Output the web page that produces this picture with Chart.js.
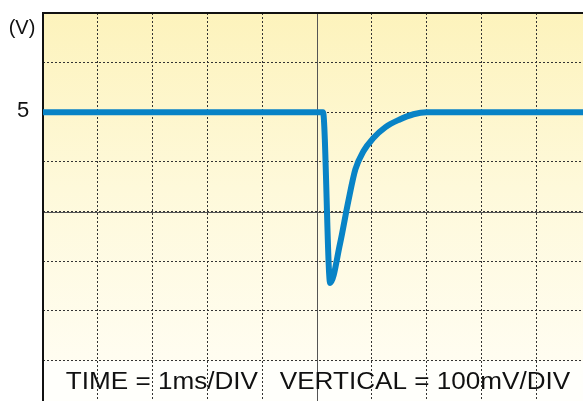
<!DOCTYPE html>
<html>
<head>
<meta charset="utf-8">
<script src="https://cdn.jsdelivr.net/npm/chart.js@4/dist/chart.umd.min.js"></script>
<style>
  html, body { margin: 0; padding: 0; background: #fff; overflow: hidden; width: 583px; height: 401px; }
  #wrap { position: absolute; left: 0; top: 0; width: 600px; height: 420px; }
</style>
</head>
<body>
<div id="wrap"><canvas id="c" width="600" height="420"></canvas></div>
<script>
// Time in ms (1 ms/DIV), voltage in V (100 mV/DIV)
const timeMs  = [0, 5.11, 5.24, 5.42, 5.57, 5.70, 5.85, 6.02, 6.25, 6.50, 6.76, 7.0, 10];
const voltsV  = [5.0, 5.0, 4.656, 4.735, 4.82, 4.885, 4.922, 4.947, 4.970, 4.985, 4.996, 5.0, 5.0];
const yTickValues = [5.0];
const yTickLabels = ['5'];
const yUnitLabel = '(V)';
const captionText = 'TIME = 1ms/DIV   VERTICAL = 100mV/DIV';

const points = timeMs.map((t, i) => ({ x: t, y: voltsV[i] }));

const scopePlugin = {
  id: 'scope',
  beforeDraw(chart) {
    const { ctx, chartArea: a } = chart;
    const yS = chart.scales.y;
    const bandTop = yS.getPixelForValue(4.5) + 1;
    ctx.save();
    const g = ctx.createLinearGradient(0, a.top, 0, bandTop);
    g.addColorStop(0, '#fdf3bc');
    g.addColorStop(0.5, '#fef9da');
    g.addColorStop(1, '#fffdf1');
    ctx.fillStyle = g;
    ctx.fillRect(a.left, a.top, a.right - a.left, bandTop - a.top);
    ctx.fillStyle = '#fffffb';
    ctx.fillRect(a.left, bandTop, a.right - a.left, a.bottom - bandTop);
    ctx.restore();
  },
  beforeDatasetsDraw(chart) {
    const { ctx, chartArea: a } = chart;
    const xS = chart.scales.x, yS = chart.scales.y;
    ctx.save();
    ctx.strokeStyle = '#555';
    ctx.lineWidth = 1;
    const cx = Math.round(xS.getPixelForValue(5)) + 0.5;
    const cy = Math.round(yS.getPixelForValue(4.8)) + 0.5;
    ctx.beginPath();
    ctx.moveTo(cx, a.top); ctx.lineTo(cx, a.bottom);
    ctx.moveTo(a.left, cy); ctx.lineTo(a.right, cy);
    ctx.stroke();
    // frame (left & top)
    ctx.strokeStyle = '#111';
    ctx.lineWidth = 2;
    ctx.beginPath();
    ctx.moveTo(a.left, a.bottom); ctx.lineTo(a.left, a.top); ctx.lineTo(a.right, a.top);
    ctx.stroke();
    // caption (slightly wide lettering, as in the original)
    ctx.fillStyle = '#111';
    ctx.font = '23px "Liberation Sans", Arial, sans-serif';
    ctx.textBaseline = 'alphabetic';
    ctx.textAlign = 'center';
    ctx.save();
    ctx.translate(318, 389);
    ctx.scale(1.135, 1);
    ctx.fillText(captionText, 0, 0);
    ctx.restore();
    // y labels
    ctx.textAlign = 'center';
    ctx.font = '20px "Liberation Sans", Arial, sans-serif';
    ctx.fillText(yUnitLabel, 22, 34);
    ctx.font = '22px "Liberation Sans", Arial, sans-serif';
    ctx.textBaseline = 'middle';
    yTickValues.forEach((v, i) => {
      ctx.fillText(yTickLabels[i], 23, yS.getPixelForValue(v) - 1);
    });
    ctx.restore();
  }
};

new Chart(document.getElementById('c'), {
  type: 'line',
  data: {
    datasets: [{
      data: points,
      borderColor: '#0883c6',
      borderWidth: 6,
      pointRadius: 0,
      cubicInterpolationMode: 'monotone',
      fill: false,
      borderJoinStyle: 'miter',
      borderCapStyle: 'butt'
    }]
  },
  options: {
    responsive: false,
    animation: false,
    events: [],
    layout: { padding: { top: 13, right: 9, bottom: 10, left: 0 } },
    plugins: { legend: { display: false }, tooltip: { enabled: false } },
    scales: {
      x: {
        type: 'linear',
        min: 0, max: 10,
        ticks: { display: false, stepSize: 1 },
        grid: { color: '#333', lineWidth: 1, drawTicks: false },
        border: { display: false, dash: [2, 2] },
        afterFit(s) { s.height = 0; }
      },
      y: {
        type: 'linear',
        min: 4.4, max: 5.2,
        ticks: { display: false, stepSize: 0.1 },
        grid: { color: '#333', lineWidth: 1, drawTicks: false },
        border: { display: false, dash: [2, 2] },
        afterFit(s) { s.width = 43; }
      }
    }
  },
  plugins: [scopePlugin]
});
</script>
</body>
</html>
